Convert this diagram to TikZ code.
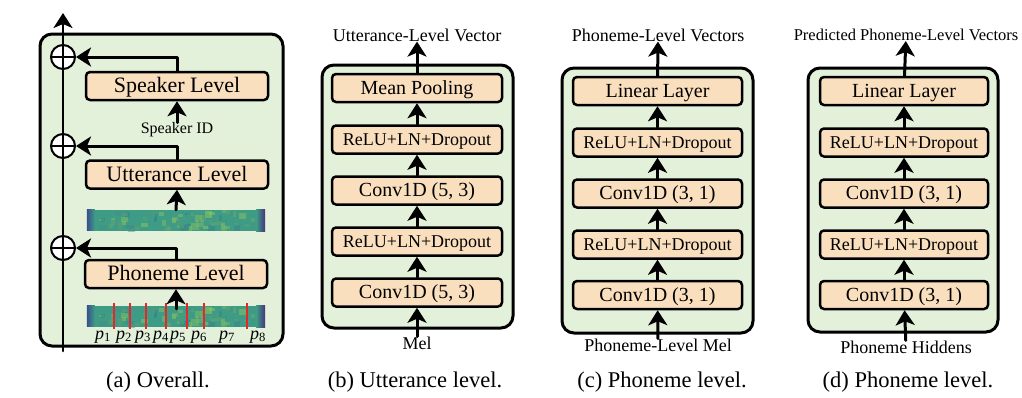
\documentclass[tikz,border=0pt]{standalone}
\usepackage{fontspec}
\setmainfont{Liberation Serif}
\usetikzlibrary{arrows.meta}

\definecolor{vertfond}{HTML}{E3F0DA}
\definecolor{peche}{HTML}{FADFBE}
\definecolor{vClair}{HTML}{A6D64E}
\definecolor{vSombre}{HTML}{2B7A8F}
\definecolor{vBase}{HTML}{3E9C86}
\definecolor{vBleu}{HTML}{3A4E8C}
\definecolor{vViolet}{HTML}{46327E}
\definecolor{rouge}{HTML}{E8262A}

\newcommand{\taille}[1]{\fontsize{#1}{#1}\selectfont}

%spectrogramme : #1 nom, #2 centre
\newcommand{\spectre}[2]{%
  \node[spectro] (#1) at (#2) {};
  \begin{scope}
    \clip (#1.north west) rectangle (#1.south east);
    \pgfmathsetseed{1234}
    \foreach \k in {1,...,70}{
      \pgfmathsetmacro{\xa}{160*rnd+6}
      \pgfmathsetmacro{\ya}{17*rnd}
      \pgfmathsetmacro{\la}{2+6*rnd}
      \pgfmathsetmacro{\ha}{2+5*rnd}
      \pgfmathtruncatemacro{\ca}{100*rnd}
      \fill[vClair!\ca!vSombre,opacity=0.45] ([shift={(\xa,\ya)}]#1.north west) rectangle ++(\la,\ha);
    }
    \shade[left color=vBleu,right color=vBase] (#1.north west) rectangle ++(8,21);
    \shade[left color=vBase,right color=vViolet] ([xshift=-9pt]#1.north east) rectangle (#1.south east);
  \end{scope}
}

\begin{document}
\begin{tikzpicture}[line cap=round,line join=round,x=1pt,y=-1pt,
    >={Stealth[length=15pt,width=19pt,inset=4pt]},
    fleche/.style={->,line width=3pt},
    cadre/.style={draw,line width=3pt,fill=vertfond,rounded corners=12pt},
    couche/.style={draw,line width=2.5pt,fill=peche,rounded corners=4pt,inner sep=0pt,
      minimum height=28pt,text height={0.68*#1pt},text depth={0.05*#1pt},font=\taille{#1}},
    couche/.default=20,
    somme/.style={draw,circle,line width=2pt,fill=white,minimum size=24pt,inner sep=0pt,
      path picture={\draw[line width=2pt] (path picture bounding box.west) -- (path picture bounding box.east)
        (path picture bounding box.north) -- (path picture bounding box.south);}},
    etiq/.style={inner sep=0pt,font=\taille{18}},
    legende/.style={anchor=base,inner sep=0pt,font=\taille{22.5}},
    spectro/.style={inner sep=0pt,minimum width=178pt,minimum height=21pt,fill=vBase}]
  \useasboundingbox (0,0) rectangle (1022,397);

  %(a) ensemble
  \draw[cadre] (40,34) rectangle (283,346);
  \coordinate (bas) at (63,351);
  \coordinate (haut) at (63,13);
  \draw[fleche,line width=2.5pt] (bas) -- (haut);
  \node[somme] (s1) at (63,248) {};
  \node[somme] (s2) at (63,146) {};
  \node[somme] (s3) at (63,57) {};
  \node[couche=22,minimum width=182pt] (ph) at (176,274) {Phoneme Level};
  \node[couche=22,minimum width=182pt] (ut) at (177,174.5) {Utterance Level};
  \node[couche=22,minimum width=182pt] (sp) at (177,86) {Speaker Level};
  \node[etiq,font=\taille{16}] (sid) at (177,130) {Speaker ID};
  \spectre{m1}{176,220.5}
  \spectre{m2}{176,316.5}
  \foreach \x in {114,130,146,166,187,204,247}
    \draw[rouge,line width=1.5pt,line cap=butt] (\x,303) -- (\x,329);
  \foreach \x/\i in {103/1,124/2,143/3,161/4,178/5,199/6,227/7,258/8}
    \node[inner sep=0pt,font=\taille{18}] (p\i) at (\x,337) {\textit{p}\textsubscript{\i}};
  \draw[fleche] ([yshift=-3pt]m2.north) -- (ph.south);
  \draw[fleche] (m1.north) -- (ut.south);
  \draw[fleche] (sid.north) -- (sp.south);
  \draw[fleche] (ph.north) |- (s1);
  \draw[fleche] (ut.north) |- (s2);
  \draw[fleche] (sp.north) |- (s3);
  \node[legende] (la) at (158,387) {(a) Overall.};

  %(b) niveau enonce
  \draw[cadre] (322,65) rectangle (513,328);
  \node[couche,minimum width=170pt] (b1) at (417,292.5) {Conv1D (5, 3)};
  \node[couche=18,minimum width=170pt] (b2) at (417,241.5) {ReLU+LN+Dropout};
  \node[couche,minimum width=170pt] (b3) at (417,190.5) {Conv1D (5, 3)};
  \node[couche=18,minimum width=170pt] (b4) at (417,139.5) {ReLU+LN+Dropout};
  \node[couche,minimum width=170pt] (b5) at (417,88) {Mean Pooling};
  \node[etiq] (melb) at (417,343) {Mel};
  \node[etiq] (vb) at (417,35) {Utterance-Level Vector};
  \draw[fleche] (melb) -- (b1);
  \foreach \i/\j in {1/2,2/3,3/4,4/5}
    \draw[fleche] (b\i) -- (b\j);
  \draw[fleche] (b5) -- (vb);
  \node[legende] (lb) at (415,387) {(b) Utterance level.};

  %(c) niveau phoneme
  \draw[cadre] (562,68) rectangle (753,333);
  \node[couche,minimum width=169pt] (c1) at (657.5,295) {Conv1D (3, 1)};
  \node[couche=18,minimum width=169pt] (c2) at (657.5,244.5) {ReLU+LN+Dropout};
  \node[couche,minimum width=169pt] (c3) at (657.5,193.5) {Conv1D (3, 1)};
  \node[couche=18,minimum width=169pt] (c4) at (657.5,142.5) {ReLU+LN+Dropout};
  \node[couche,minimum width=169pt] (c5) at (657.5,91) {Linear Layer};
  \node[etiq] (melc) at (658,345) {Phoneme-Level Mel};
  \node[etiq] (vc) at (658,35) {Phoneme-Level Vectors};
  \draw[fleche] (melc) -- (c1);
  \foreach \i/\j in {1/2,2/3,3/4,4/5}
    \draw[fleche] (c\i) -- (c\j);
  \draw[fleche] (c5) -- (vc);
  \node[legende] (lc) at (662,387) {(c) Phoneme level.};

  %(d) niveau phoneme predit
  \draw[cadre] (808,68) rectangle (998,332);
  \node[couche,minimum width=168pt] (d1) at (904,295) {Conv1D (3, 1)};
  \node[couche=18,minimum width=168pt] (d2) at (904,244.5) {ReLU+LN+Dropout};
  \node[couche,minimum width=168pt] (d3) at (904,193.5) {Conv1D (3, 1)};
  \node[couche=18,minimum width=168pt] (d4) at (904,142.5) {ReLU+LN+Dropout};
  \node[couche,minimum width=168pt] (d5) at (904,91) {Linear Layer};
  \node[etiq] (hd) at (906,347) {Phoneme Hiddens};
  \node[etiq,font=\taille{16.5}] (vd) at (906,35) {Predicted Phoneme-Level Vectors};
  \draw[fleche] (hd) -- (d1);
  \foreach \i/\j in {1/2,2/3,3/4,4/5}
    \draw[fleche] (d\i) -- (d\j);
  \draw[fleche] (d5) -- (vd);
  \node[legende] (ld) at (908,387) {(d) Phoneme level.};
\end{tikzpicture}
\end{document}
